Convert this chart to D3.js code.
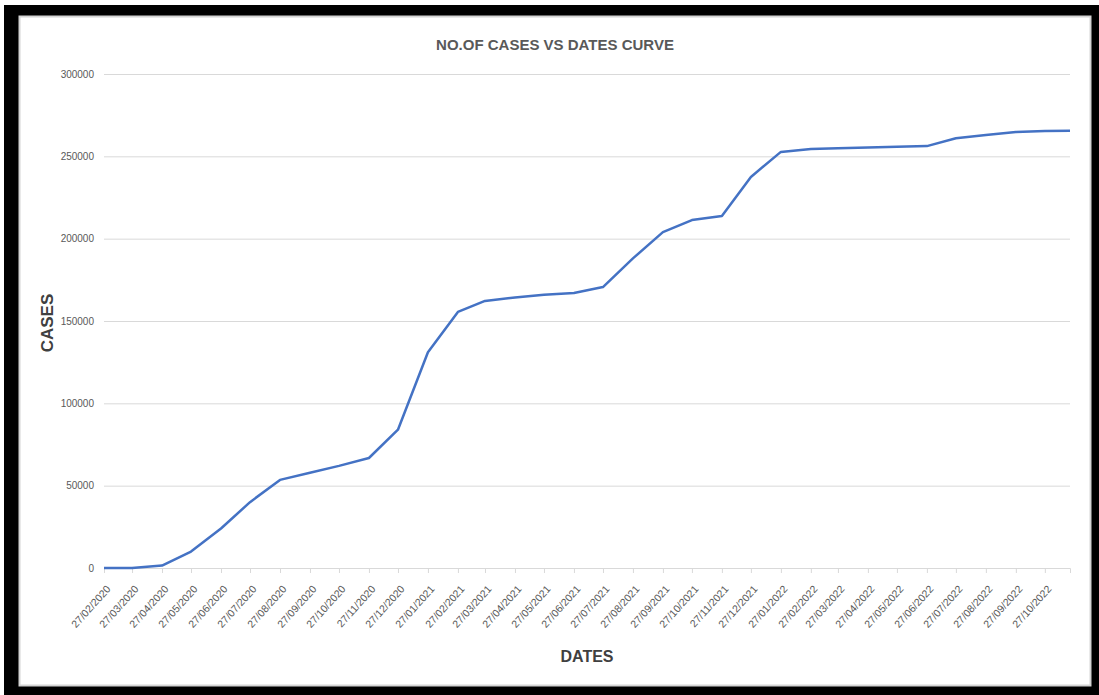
<!DOCTYPE html>
<html>
<head>
<meta charset="utf-8">
<script src="https://cdn.jsdelivr.net/npm/d3@7"></script>
<style>
  body { margin: 0; background: #fff; }
  svg { display: block; font-family: "Liberation Sans", Arial, sans-serif; }
</style>
</head>
<body>
<svg id="chart" width="1099" height="695"></svg>
<script>
// monthly readings (last one is a partial month)
const dates = [
  "27/02/2020", "27/03/2020", "27/04/2020", "27/05/2020", "27/06/2020", "27/07/2020",
  "27/08/2020", "27/09/2020", "27/10/2020", "27/11/2020", "27/12/2020",
  "27/01/2021", "27/02/2021", "27/03/2021", "27/04/2021", "27/05/2021", "27/06/2021",
  "27/07/2021", "27/08/2021", "27/09/2021", "27/10/2021", "27/11/2021", "27/12/2021",
  "27/01/2022", "27/02/2022", "27/03/2022", "27/04/2022", "27/05/2022", "27/06/2022",
  "27/07/2022", "27/08/2022", "27/09/2022", "27/10/2022", "22/11/2022"
];
const cases = [
  0, 0, 1500, 10000, 24000, 40000,
  53500, 57800, 62000, 66800, 84000,
  131000, 155500, 162200, 164300, 166000, 167000,
  170600, 188000, 204000, 211300, 213800, 237500,
  252700, 254400, 254900, 255400, 255800, 256200,
  261000, 263000, 264800, 265400, 265500
];
const tickLabels = dates.slice(0, -1);
const yTicks = [0, 50000, 100000, 150000, 200000, 250000, 300000];

const parse = d3.timeParse("%d/%m/%Y");
const rows = dates.map((d, i) => ({ date: parse(d), value: cases[i] }));

const svg = d3.select("#chart");

// frame
svg.append("rect").attr("x", 4).attr("y", 5).attr("width", 1095).attr("height", 690).attr("fill", "#000");
svg.append("rect").attr("x", 19.5).attr("y", 16.5).attr("width", 1071).attr("height", 669)
  .attr("fill", "#fff").attr("stroke", "#d4d4d4").attr("stroke-width", 2);

const plot = { left: 104, right: 1070, top: 74, bottom: 568 };

const x = d3.scaleTime()
  .domain(d3.extent(rows, d => d.date))
  .range([plot.left, plot.right]);
const y = d3.scaleLinear()
  .domain([0, 300000])
  .range([plot.bottom, plot.top]);

// gridlines + y labels
const yAxis = svg.append("g")
  .attr("transform", `translate(${plot.left},0)`)
  .call(d3.axisLeft(y).tickValues(yTicks).tickSize(-(plot.right - plot.left)).tickPadding(10).tickFormat(d3.format("d")));
yAxis.select(".domain").remove();
yAxis.selectAll(".tick line").attr("stroke", "#d9d9d9");
yAxis.selectAll(".tick text").attr("fill", "#595959").style("font-size", "10px");

// x axis
const xAxis = svg.append("g")
  .attr("transform", `translate(0,${plot.bottom})`)
  .call(d3.axisBottom(x).tickValues(tickLabels.map(parse)).tickSize(5).tickFormat(d3.timeFormat("%d/%m/%Y")));
xAxis.select(".domain").attr("stroke", "#d9d9d9");
xAxis.selectAll(".tick line").attr("stroke", "#d9d9d9");
xAxis.selectAll(".tick text")
  .attr("fill", "#595959")
  .style("font-size", "10.5px")
  .attr("text-anchor", "end")
  .attr("x", 0).attr("y", 0).attr("dy", "0.35em")
  .attr("transform", "translate(4,19) rotate(-48)");

// line
svg.append("path")
  .datum(rows)
  .attr("fill", "none")
  .attr("stroke", "#4472C4")
  .attr("stroke-width", 2.5)
  .attr("stroke-linejoin", "round")
  .attr("d", d3.line().x(d => x(d.date)).y(d => y(d.value)));

// titles
svg.append("text")
  .attr("x", 555).attr("y", 50)
  .attr("text-anchor", "middle")
  .attr("fill", "#595959")
  .style("font-size", "15px").style("font-weight", "bold")
  .text("NO.OF CASES VS DATES CURVE");

svg.append("text")
  .attr("transform", "translate(53,323) rotate(-90)")
  .attr("text-anchor", "middle")
  .attr("fill", "#404040")
  .style("font-size", "17px").style("font-weight", "bold")
  .text("CASES");

svg.append("text")
  .attr("x", 587).attr("y", 662)
  .attr("text-anchor", "middle")
  .attr("fill", "#404040")
  .style("font-size", "16px").style("font-weight", "bold")
  .text("DATES");
</script>
</body>
</html>
